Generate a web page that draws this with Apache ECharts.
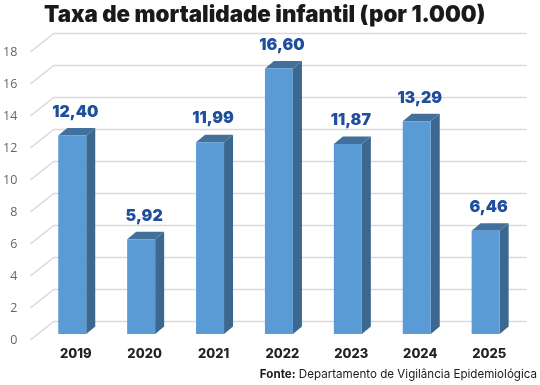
<!DOCTYPE html>
<html>
<head>
<meta charset="utf-8">
<script src="https://cdn.jsdelivr.net/npm/echarts@6/dist/echarts.min.js"></script>
<style>html,body{margin:0;padding:0;background:#fff}#c{width:540px;height:385px}</style>
</head>
<body>
<div id="c"></div>
<script>
var titleText = 'Taxa de mortalidade infantil (por 1.000)';
var years = ['2019', '2020', '2021', '2022', '2023', '2024', '2025'];
var rates = [12.40, 5.92, 11.99, 16.60, 11.87, 13.29, 6.46];
var rateLabels = ['12,40', '5,92', '11,99', '16,60', '11,87', '13,29', '6,46'];
var yTicks = [0, 2, 4, 6, 8, 10, 12, 14, 16, 18];
var sourceBold = 'Fonte:';
var sourceText = 'Departamento de Vigilância Epidemiológica';

var chart = echarts.init(document.getElementById('c'), null, {renderer: 'canvas'});
var FONT = 'Inter, "Noto Sans", sans-serif';

// 3D geometry (pixels)
var WALL_DX = 23.5, WALL_DY = -18.5;   // front label plane -> back wall
var BAR_DY = -6;                        // front label plane -> bar front plane
var DEPTH_DX = 9, DEPTH_DY = -7.5;      // bar depth
var BAR_W = 28, BAR_SHIFT = -3.5;

var option = {
  animation: false,
  title: {
    text: titleText,
    left: 39,
    top: -1,
    textStyle: {fontFamily: FONT, fontSize: 22.3, fontWeight: 900, color: '#1a1a1a'}
  },
  grid: {left: 38.3, right: 16.4, top: 52, bottom: 45},
  xAxis: {
    type: 'category',
    data: years,
    axisLine: {show: false},
    axisTick: {show: false},
    axisLabel: {margin: 8, fontFamily: FONT, fontWeight: 800, fontSize: 13, color: '#222'}
  },
  yAxis: {
    type: 'value',
    min: 0, max: 18, interval: 2,
    axisLine: {show: false},
    axisTick: {show: false},
    splitLine: {show: false},
    axisLabel: {margin: 24, fontFamily: '"Open Sans", sans-serif', fontSize: 12.5, color: '#666'}
  },
  graphic: [{
    type: 'text',
    right: 3,
    bottom: 4,
    style: {
      text: '{b|' + sourceBold + '} ' + sourceText,
      rich: {b: {fontWeight: 'bold', fontFamily: FONT, fontSize: 11.6, fill: '#1a1a1a'}},
      font: '11.6px ' + FONT,
      fill: '#1a1a1a'
    }
  }],
  series: [
    {
      type: 'custom',
      z: 1,
      silent: true,
      data: yTicks.map(function (t) { return [0, t]; }),
      renderItem: function (params, api) {
        var cs = params.coordSys;
        var y = api.coord([0, api.value(1)])[1];
        var x0 = cs.x - 11;
        return {
          type: 'polyline',
          shape: {points: [[x0, y], [x0 + WALL_DX, y + WALL_DY], [cs.x + cs.width + 3, y + WALL_DY]]},
          style: {stroke: '#d9d9d9', lineWidth: 1.5, fill: null}
        };
      }
    },
    {
      type: 'custom',
      z: 2,
      data: rates.map(function (v, i) { return [i, v]; }),
      renderItem: function (params, api) {
        var i = api.value(0), v = api.value(1);
        var top = api.coord([i, v]);
        var base = api.coord([i, 0]);
        var xl = top[0] + BAR_SHIFT - BAR_W / 2, xr = xl + BAR_W;
        var yt = top[1] + BAR_DY, yb = base[1] + BAR_DY;
        return {
          type: 'group',
          children: [
            {type: 'polygon', shape: {points: [[xr, yt], [xr + DEPTH_DX, yt + DEPTH_DY], [xr + DEPTH_DX, yb + DEPTH_DY], [xr, yb]]},
              style: {fill: '#3c6890'}},
            {type: 'polygon', shape: {points: [[xl, yt], [xl + DEPTH_DX, yt + DEPTH_DY], [xr + DEPTH_DX, yt + DEPTH_DY], [xr, yt]]},
              style: {fill: '#41709c'}},
            {type: 'rect', shape: {x: xl, y: yt, width: BAR_W, height: yb - yt},
              style: {fill: '#5b9bd5'}},
            {type: 'text', x: (xl + xr) / 2 + 3, y: yt - 23.5,
              style: {text: rateLabels[i], align: 'center', verticalAlign: 'middle',
                font: '900 16px ' + FONT, fill: '#1f4e9f'}}
          ]
        };
      }
    }
  ]
};
chart.setOption(option);
</script>
</body>
</html>
